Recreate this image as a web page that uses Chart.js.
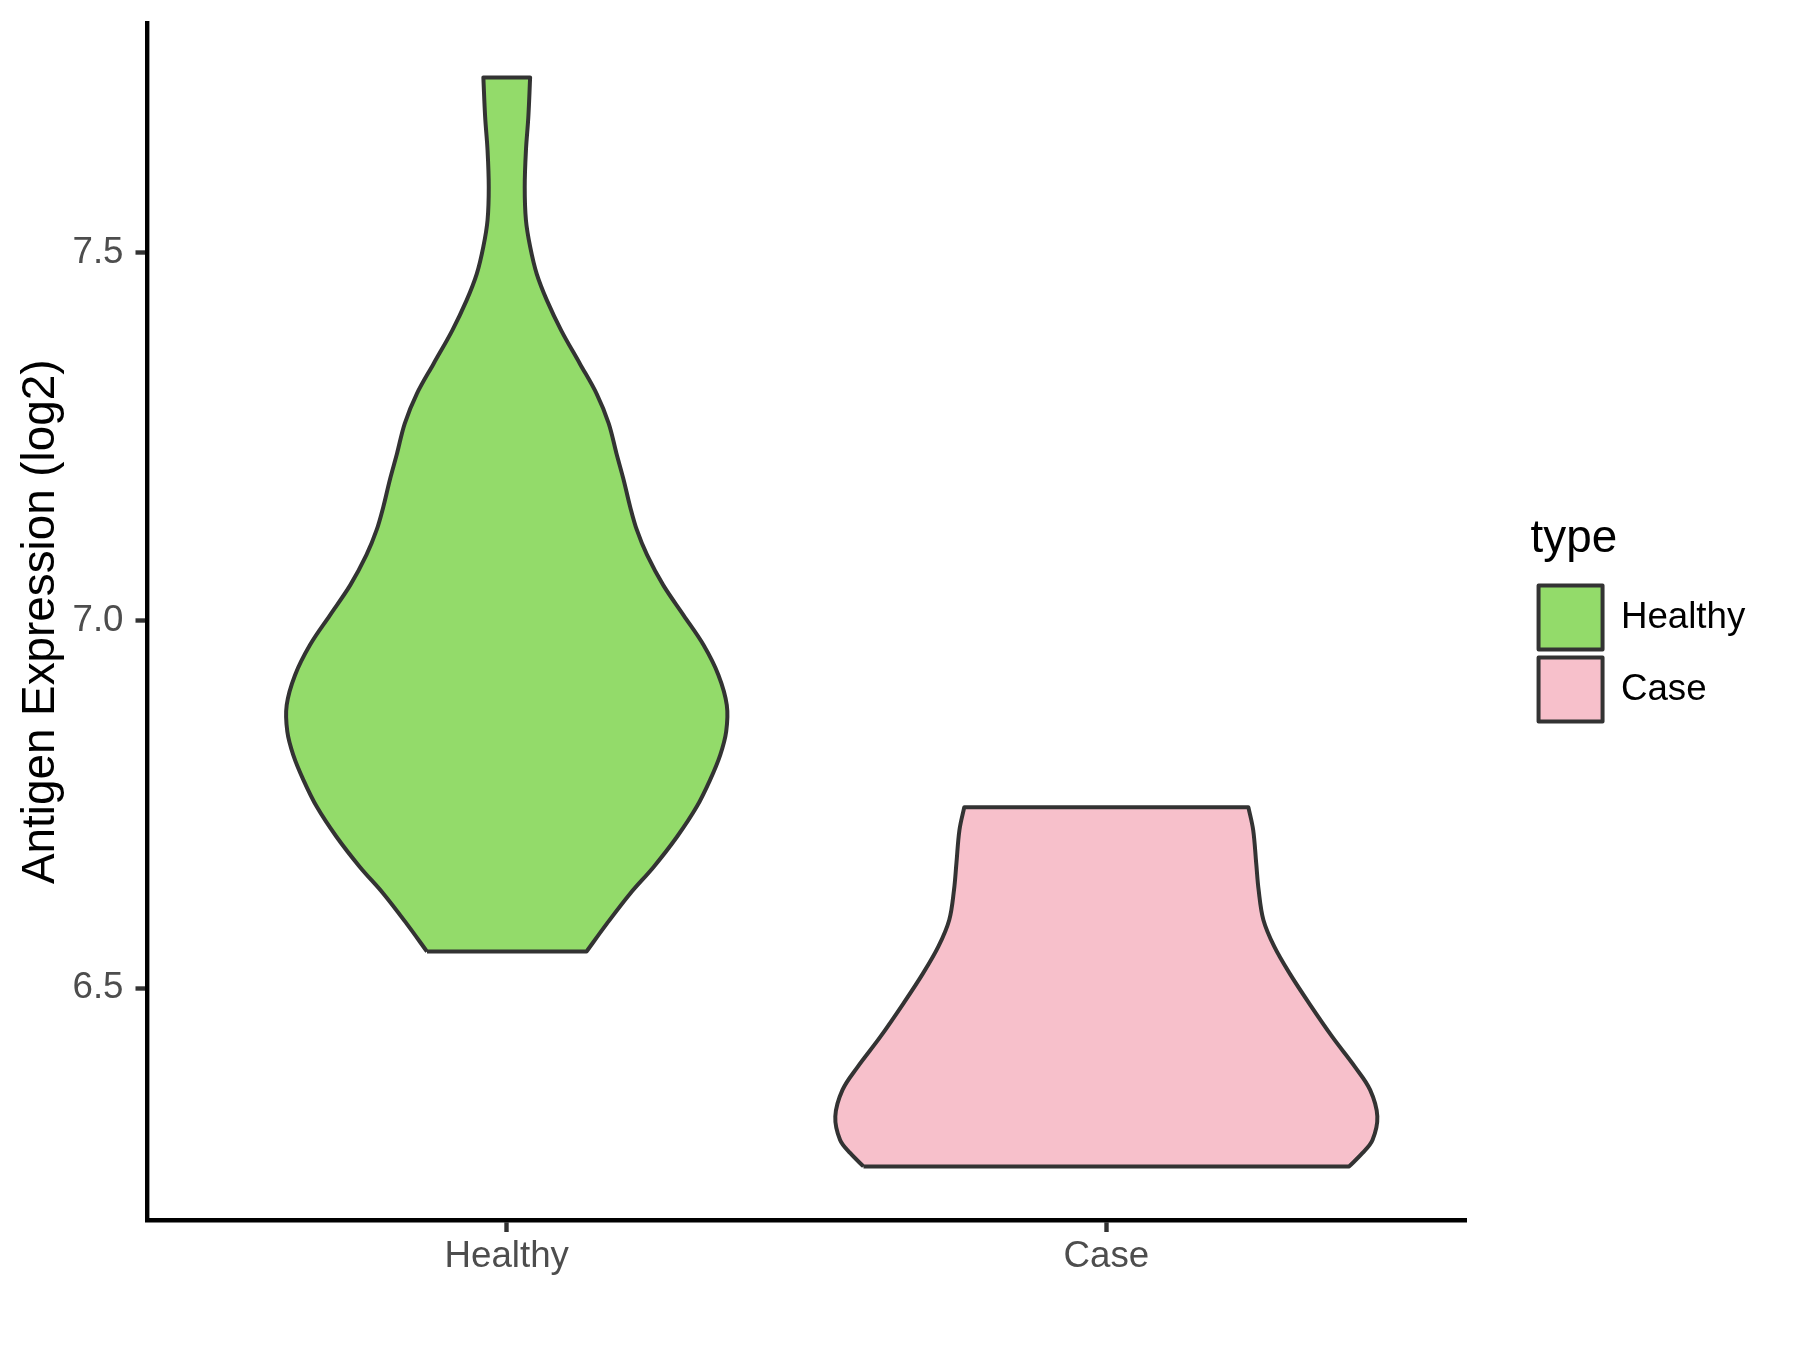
<!DOCTYPE html>
<html>
<head>
<meta charset="utf-8">
<script src="https://cdn.jsdelivr.net/npm/chart.js@4.4.1/dist/chart.umd.min.js"></script>
<style>
  body { margin: 0; background: #ffffff; }
  canvas { display: block; }
</style>
</head>
<body>
<canvas id="chart" width="1800" height="1350"></canvas>
<script>
// categories on the x axis (positions 0 and 1)
const categories = ["Healthy", "Case"];

// violin outlines: y value (log2) and half width (x units)
const healthyY = [6.550, 6.588, 6.629, 6.665, 6.706, 6.747, 6.783, 6.817, 6.849, 6.885, 6.926, 6.967,
                  7.007, 7.048, 7.089, 7.123, 7.154, 7.191, 7.227, 7.268, 7.308, 7.349, 7.394, 7.435,
                  7.471, 7.508, 7.544, 7.589, 7.639, 7.684, 7.738];
const healthyW = [0.133, 0.167, 0.206, 0.245, 0.284, 0.317, 0.339, 0.356, 0.366, 0.367, 0.353, 0.328,
                  0.295, 0.261, 0.234, 0.217, 0.206, 0.195, 0.183, 0.170, 0.150, 0.122, 0.091, 0.067,
                  0.050, 0.039, 0.032, 0.030, 0.032, 0.036, 0.039];

const caseY = [6.258, 6.276, 6.294, 6.326, 6.362, 6.393, 6.434, 6.480, 6.520, 6.557, 6.593, 6.634,
               6.670, 6.715, 6.746];
const caseW = [0.405, 0.427, 0.444, 0.452, 0.440, 0.415, 0.377, 0.338, 0.306, 0.280, 0.262, 0.254,
               0.250, 0.245, 0.237];

const yTicks = [6.5, 7.0, 7.5];

const fillColors = ["#93DB6A", "#F7C0CB"];
const lineColor = "#333333";

Chart.defaults.font.family = "'Liberation Sans', Arial, sans-serif";

// closed outline: left edge going up, right edge coming down
function outline(center, ys, ws) {
    const pts = [];
    const n = ys.length;
    for (let i = 0; i < n; i++) pts.push({x: center - ws[i], y: ys[i]});
    pts.push({x: center - ws[n - 1], y: ys[n - 1]});
    pts.push({x: center + ws[n - 1], y: ys[n - 1]});
    for (let i = n - 1; i >= 0; i--) pts.push({x: center + ws[i], y: ys[i]});
    pts.push({x: center + ws[0], y: ys[0]});
    pts.push({x: center - ws[0], y: ys[0]});
    return pts;
}

function violin(label, idx, ys, ws) {
    return {
        label: label,
        data: outline(idx, ys, ws),
        backgroundColor: fillColors[idx],
        borderColor: lineColor,
        borderWidth: 4,
        borderJoinStyle: "round",
        fill: "shape",
        tension: 0.35,
        pointRadius: 0,
        pointHoverRadius: 0
    };
}

const graph = new Chart(document.getElementById("chart"), {
    type: "line",
    data: {
        datasets: [
            violin(categories[0], 0, healthyY, healthyW),
            violin(categories[1], 1, caseY, caseW)
        ]
    },
    options: {
        responsive: false,
        animation: false,
        devicePixelRatio: 1,
        layout: {
            padding: {top: 23, right: 44.7, bottom: 0, left: 0}
        },
        scales: {
            x: {
                type: "linear",
                position: "bottom",
                min: -0.6,
                max: 1.6,
                afterBuildTicks: (scale) => {
                    scale.ticks = categories.map((c, i) => ({value: i}));
                },
                afterFit: (scale) => {
                    scale.height = 129.5;
                    scale.paddingLeft = 0;
                    scale.paddingRight = 0;
                },
                ticks: {
                    callback: (v) => categories[v],
                    font: {size: 36.7},
                    color: "#4D4D4D",
                    padding: 2.5,
                    maxRotation: 0,
                    autoSkip: false
                },
                grid: {
                    drawOnChartArea: false,
                    drawTicks: true,
                    tickLength: 11.5,
                    tickColor: lineColor,
                    tickWidth: 4.4
                },
                border: {display: true, color: "#000000", width: 4.4}
            },
            y: {
                type: "linear",
                position: "left",
                min: 6.1845,
                max: 7.812,
                afterBuildTicks: (scale) => {
                    scale.ticks = yTicks.map(v => ({value: v}));
                },
                afterFit: (scale) => {
                    scale.width = 147;
                    scale.paddingTop = 0;
                    scale.paddingBottom = 0;
                },
                ticks: {
                    callback: (v) => v.toFixed(1),
                    font: {size: 36.7},
                    color: "#4D4D4D",
                    padding: 12
                },
                grid: {
                    drawOnChartArea: false,
                    drawTicks: true,
                    tickLength: 11.5,
                    tickColor: lineColor,
                    tickWidth: 4.4
                },
                border: {display: true, color: "#000000", width: 4.4},
                title: {
                    display: true,
                    text: "Antigen Expression (log2)",
                    font: {size: 45.8},
                    color: "#000000",
                    padding: {top: 14, bottom: 0}
                }
            },
            // empty spacer between the panel and the legend
            gap: {
                type: "linear",
                axis: "y",
                position: "right",
                display: true,
                afterFit: (scale) => { scale.width = 64.5; },
                ticks: {display: false},
                grid: {display: false, drawTicks: false},
                border: {display: false},
                title: {display: false}
            }
        },
        plugins: {
            legend: {
                position: "right",
                align: "center",
                fullSize: false,
                title: {
                    display: true,
                    text: "type",
                    position: "start",
                    color: "#000000",
                    font: {size: 45.8},
                    padding: {top: 2, bottom: 6.5}
                },
                labels: {
                    boxWidth: 64,
                    boxHeight: 64,
                    padding: 8,
                    color: "#000000",
                    font: {size: 36.7}
                }
            },
            tooltip: {enabled: false}
        }
    }
});
</script>
</body>
</html>
